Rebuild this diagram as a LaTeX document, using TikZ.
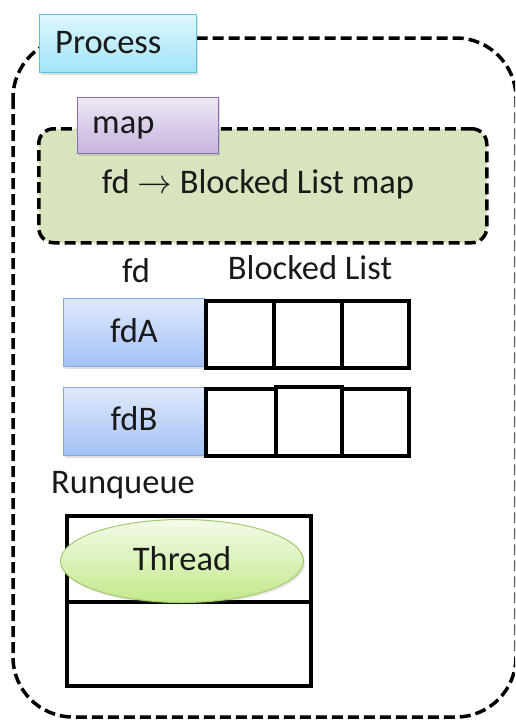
\documentclass[tikz,border=0pt]{standalone}
\usepackage{fontspec}
\setmainfont{Carlito}
\newfontfamily\arrowfont{Latin Modern Math}
\usetikzlibrary{shapes.geometric,shadows}

\definecolor{procTop}{HTML}{DDF6FC}
\definecolor{procBot}{HTML}{A2E4F7}
\definecolor{procEdge}{HTML}{5CC3DF}
\definecolor{mapTop}{HTML}{EEE8F5}
\definecolor{mapBot}{HTML}{C6B3DF}
\definecolor{mapEdge}{HTML}{8A6DB0}
\definecolor{mapFill}{HTML}{D7E4BD}
\definecolor{fdTop}{HTML}{DFE9FB}
\definecolor{fdBot}{HTML}{A3C1F5}
\definecolor{fdEdge}{HTML}{86A8E0}
\definecolor{thTop}{HTML}{F4FBE8}
\definecolor{thBot}{HTML}{C2E88A}
\definecolor{thEdge}{HTML}{A3C96A}

\tikzset{
  dashline/.style={draw=black, line width=3.5pt, dash pattern=on 11pt off 5pt},
  tagbox/.style={anchor=north west, inner sep=0pt, line width=1pt,
    drop shadow={opacity=0.25, shadow xshift=1.5pt, shadow yshift=-2pt}},
  cell/.style={draw=black, line width=3.6pt, anchor=north west, inner sep=0pt,
    minimum width=68pt, minimum height=67pt},
  txt/.style={anchor=base, inner sep=0pt, text=black!90},
}

\begin{document}
\begin{tikzpicture}[x=1pt, y=-1pt, font=\fontsize{34.5}{40}\selectfont]
\useasboundingbox (0,0) rectangle (515,720);

% process frame, its right side running off the page
\begin{scope}
  \clip (0,0) rectangle (515,720);
  \draw[dashline, rounded corners=60pt] (13,38) rectangle (516,717);
\end{scope}

\node[tagbox, draw=procEdge, top color=procTop, bottom color=procBot,
      minimum width=157pt, minimum height=58pt] (proc) at (39,14) {};
\node[txt, anchor=base west] (proclbl) at (55,53) {Process};

% fd -> blocked list map
\node[dashline, fill=mapFill, rounded corners=15pt, anchor=north west,
      minimum width=448pt, minimum height=114pt, inner sep=0pt] (mapframe) at (37,127) {};
\node[txt] (maptext) at (258,193) {fd {\arrowfont →} Blocked List map};

\node[tagbox, draw=mapEdge, top color=mapTop, bottom color=mapBot,
      minimum width=141pt, minimum height=56pt] (maptag) at (77,97) {};
\node[txt, anchor=base west] (maplbl) at (92,133) {map};

% fd table with blocked lists
\node[txt] (fdhead) at (136,282) {fd};
\node[txt] (blhead) at (310,279) {Blocked List};

\node[tagbox, draw=fdEdge, top color=fdTop, bottom color=fdBot,
      minimum width=141pt, minimum height=68pt] (fda) at (63,298) {};
\node[txt] (fdalbl) at (134,342) {fdA};
\node[cell] (a1) at (204,299) {};
\node[cell] (a2) at (272,299) {};
\node[cell, minimum width=67pt] (a3) at (340,299) {};

\node[tagbox, draw=fdEdge, top color=fdTop, bottom color=fdBot,
      minimum width=141pt, minimum height=68pt] (fdb) at (63,387) {};
\node[txt] (fdblbl) at (134,430) {fdB};
\node[cell, minimum width=70pt] (b1) at (204,387) {};
\node[cell, minimum width=66pt, minimum height=69pt] (b2) at (274,385) {};
\node[cell, minimum width=67pt] (b3) at (340,387) {};

% run queue
\node[txt] (rqlbl) at (123,493) {Runqueue};
\node[cell, minimum width=244pt, minimum height=86pt] (rq1) at (65,514) {};
\node[cell, minimum width=244pt, minimum height=84pt] (rq2) at (65,600) {};

\node[ellipse, draw=thEdge, line width=1pt, top color=thTop, bottom color=thBot,
      minimum width=243pt, minimum height=83pt, inner sep=0pt,
      drop shadow={opacity=0.2, shadow xshift=1.5pt, shadow yshift=-2pt}] (thread) at (182,561) {};
\node[txt] (thlbl) at (182,570) {Thread};
\end{tikzpicture}
\end{document}
